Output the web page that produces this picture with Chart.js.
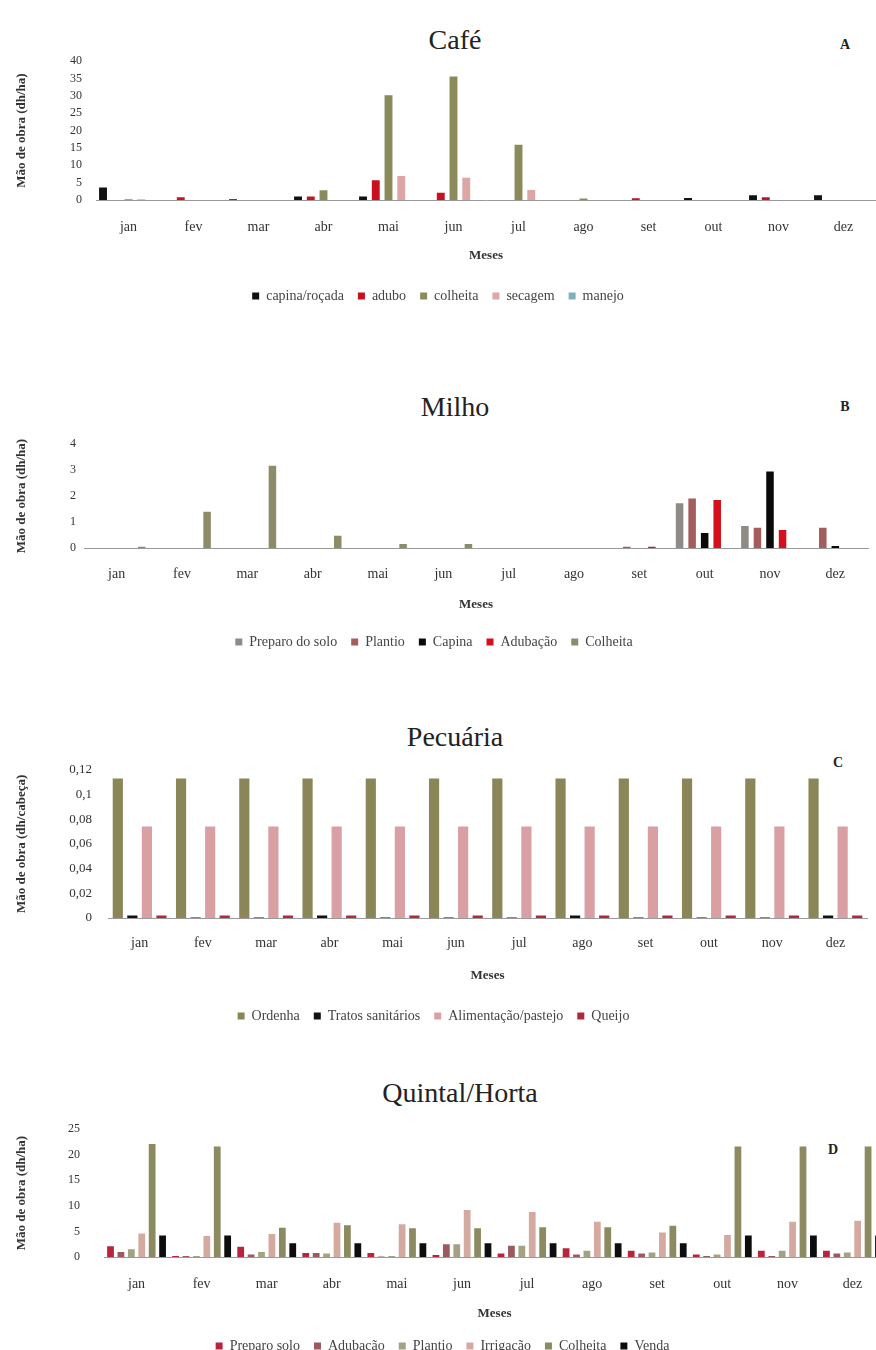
<!DOCTYPE html>
<html><head><meta charset="utf-8">
<script src="https://cdn.jsdelivr.net/npm/chart.js@4.4.0/dist/chart.umd.min.js"></script>
<style>
html,body{margin:0;padding:0;background:#fff;overflow:hidden;width:876px;height:1350px;position:relative}
.t{position:absolute;font-family:'Liberation Serif',serif;font-size:28px;color:#222;transform:translate(-50%,-50%);white-space:nowrap}
.l{position:absolute;font-family:'Liberation Serif',serif;font-weight:bold;font-size:14px;color:#222;transform:translate(-50%,-50%)}
.c{position:absolute;left:0}
</style></head><body>
<div class="t" style="left:455px;top:40px">Café</div>
<div class="l" style="left:845px;top:45px">A</div>
<div class="c" style="top:40px;width:930px;height:273px"><canvas id="ca"></canvas></div>

<div class="t" style="left:455px;top:407px">Milho</div>
<div class="l" style="left:845px;top:407px">B</div>
<div class="c" style="top:429px;width:910px;height:230px"><canvas id="cb"></canvas></div>

<div class="t" style="left:455px;top:737px">Pecuária</div>
<div class="l" style="left:838px;top:763px">C</div>
<div class="c" style="top:746px;width:930px;height:287px"><canvas id="cc"></canvas></div>

<div class="t" style="left:460px;top:1093px">Quintal/Horta</div>
<div class="l" style="left:833px;top:1150px">D</div>
<div class="c" style="top:1098px;width:930px;height:265px"><canvas id="cd"></canvas></div>

<script>
const months = ['jan','fev','mar','abr','mai','jun','jul','ago','set','out','nov','dez'];

// A - Café
const cafeCapina   = [3.6, 0, 0.2, 1.0, 1.0, 0, 0, 0, 0, 0.6, 1.4, 1.4];
const cafeAdubo    = [0, 0.8, 0, 1.0, 5.7, 2.1, 0, 0, 0.5, 0, 0.8, 0];
const cafeColheita = [0.2, 0, 0, 2.8, 30.2, 35.6, 15.9, 0.4, 0, 0, 0, 0];
const cafeSecagem  = [0.2, 0, 0, 0, 6.9, 6.4, 2.9, 0, 0, 0, 0, 0];
const cafeManejo   = [0, 0, 0, 0, 0, 0, 0, 0, 0, 0, 0, 0];

// B - Milho
const milhoPreparo  = [0, 0, 0, 0, 0, 0, 0, 0, 0, 1.72, 0.85, 0];
const milhoPlantio  = [0, 0, 0, 0, 0, 0, 0, 0, 0.05, 1.91, 0.78, 0.78];
const milhoCapina   = [0, 0, 0, 0, 0, 0, 0, 0, 0, 0.58, 2.95, 0.08];
const milhoAdubacao = [0, 0, 0, 0, 0, 0, 0, 0, 0.05, 1.85, 0.69, 0];
const milhoColheita = [0.05, 1.4, 3.17, 0.47, 0.15, 0.15, 0, 0, 0, 0, 0, 0];

// C - Pecuária
const pecOrdenha = [0.113, 0.113, 0.113, 0.113, 0.113, 0.113, 0.113, 0.113, 0.113, 0.113, 0.113, 0.113];
const pecTratos  = [0.002, 0.0005, 0.0005, 0.002, 0.0005, 0.0005, 0.0005, 0.002, 0.0005, 0.0005, 0.0005, 0.002];
const pecAliment = [0.074, 0.074, 0.074, 0.074, 0.074, 0.074, 0.074, 0.074, 0.074, 0.074, 0.074, 0.074];
const pecQueijo  = [0.002, 0.002, 0.002, 0.002, 0.002, 0.002, 0.002, 0.002, 0.002, 0.002, 0.002, 0.002];

// D - Quintal/Horta
const qPreparo  = [2.1, 0.2, 2.0, 0.8, 0.8, 0.4, 0.7, 1.7, 1.2, 0.5, 1.2, 1.2];
const qAdubacao = [1.0, 0.2, 0.5, 0.8, 0.1, 2.5, 2.2, 0.5, 0.7, 0.2, 0.2, 0.7];
const qPlantio  = [1.5, 0.2, 1.0, 0.7, 0.2, 2.5, 2.2, 1.2, 0.9, 0.5, 1.2, 0.9];
const qIrrigacao= [4.6, 4.1, 4.5, 6.7, 6.4, 9.2, 8.8, 6.9, 4.8, 4.3, 6.9, 7.1];
const qColheita = [22.1, 21.6, 5.7, 6.2, 5.6, 5.6, 5.8, 5.8, 6.1, 21.6, 21.6, 21.6];
const qVenda    = [4.2, 4.2, 2.7, 2.7, 2.7, 2.7, 2.7, 2.7, 2.7, 4.2, 4.2, 4.2];

const F = "'Liberation Serif', serif";

function ds(label, data, color, cat, bar){
  return {label, data, backgroundColor:color, borderWidth:0, categoryPercentage:cat, barPercentage:bar};
}

function make(id, o){
  new Chart(document.getElementById(id), {
    type:'bar',
    data:{labels:months, datasets:o.ds},
    options:{
      responsive:true, maintainAspectRatio:false, animation:false,
      layout:{padding:{top:0, right:o.padR, left:0, bottom:0}},
      plugins:{
        legend:{position:'bottom', labels:{font:{family:F, size:14}, color:'#444', boxWidth:7, boxHeight:7, padding:14}},
        tooltip:{enabled:false}
      },
      scales:{
        x:{
          grid:{display:false, drawTicks:false},
          border:{display:true, color:'#9a9a9a', width:1},
          ticks:{font:{family:F, size:14}, color:'#333', padding:o.xpad, autoSkip:false, maxRotation:0},
          title:{display:true, text:'Meses', font:{family:F, size:13, weight:'bold'}, color:'#333', padding:{top:0, bottom:o.tpb}},
          afterFit:(s)=>{ s.height = o.xh; }
        },
        y:{
          min:0, max:o.ymax,
          grid:{display:false, drawTicks:false},
          border:{display:false},
          ticks:{stepSize:o.step, autoSkip:false, font:{family:F, size:o.yfont}, color:'#333', padding:o.ypad, callback:o.fmt},
          title:{display:true, text:o.yt, font:{family:F, size:13, weight:'bold'}, color:'#333', padding:{top:14, bottom:0}},
          afterFit:(s)=>{ s.width = o.plotL; }
        }
      }
    }
  });
}

const intFmt = v => String(v);
const decFmt = v => v === 0 ? '0' : String(Math.round(v*100)/100).replace('.', ',');

make('ca', {
  ds:[
    ds('capina/roçada', cafeCapina, '#111111', 0.98, 0.62),
    ds('adubo', cafeAdubo, '#c8101e', 0.98, 0.62),
    ds('colheita', cafeColheita, '#8b8a5a', 0.98, 0.62),
    ds('secagem', cafeSecagem, '#dca6a6', 0.98, 0.62),
    ds('manejo', cafeManejo, '#7fb0b8', 0.98, 0.62)
  ],
  ymax:40, step:5, fmt:intFmt, yt:'Mão de obra (dh/ha)', yfont:12,
  plotL:96, padR:54, xpad:19, xh:75, tpb:12, ypad:14
});

make('cb', {
  ds:[
    ds('Preparo do solo', milhoPreparo, '#8e8a86', 0.96, 0.6),
    ds('Plantio', milhoPlantio, '#a35d5d', 0.96, 0.6),
    ds('Capina', milhoCapina, '#0a0a0a', 0.96, 0.6),
    ds('Adubação', milhoAdubacao, '#d4101c', 0.96, 0.6),
    ds('Colheita', milhoColheita, '#8d8c68', 0.96, 0.6)
  ],
  ymax:4, step:1, fmt:intFmt, yt:'Mão de obra (dh/ha)', yfont:12,
  plotL:84, padR:42, xpad:18, xh:73, tpb:9, ypad:8
});

make('cc', {
  ds:[
    ds('Ordenha', pecOrdenha, '#8a8658', 0.92, 0.7),
    ds('Tratos sanitários', pecTratos, '#111111', 0.92, 0.7),
    ds('Alimentação/pastejo', pecAliment, '#d9a0a4', 0.92, 0.7),
    ds('Queijo', pecQueijo, '#b0283c', 0.92, 0.7)
  ],
  ymax:0.12, step:0.02, fmt:decFmt, yt:'Mão de obra (dh/cabeça)', yfont:13,
  plotL:108, padR:63, xpad:17, xh:77, tpb:12, ypad:16
});

make('cd', {
  ds:[
    ds('Preparo solo', qPreparo, '#b8243c', 0.96, 0.65),
    ds('Adubação', qAdubacao, '#9b5a5e', 0.96, 0.65),
    ds('Plantio', qPlantio, '#a3a384', 0.96, 0.65),
    ds('Irrigação', qIrrigacao, '#d4aaa0', 0.96, 0.65),
    ds('Colheita', qColheita, '#8b8a60', 0.96, 0.65),
    ds('Venda', qVenda, '#0d0d0d', 0.96, 0.65)
  ],
  ymax:25, step:5, fmt:intFmt, yt:'Mão de obra (dh/ha)', yfont:12,
  plotL:104, padR:45, xpad:19, xh:68, tpb:4, ypad:24
});
</script>
</body></html>
